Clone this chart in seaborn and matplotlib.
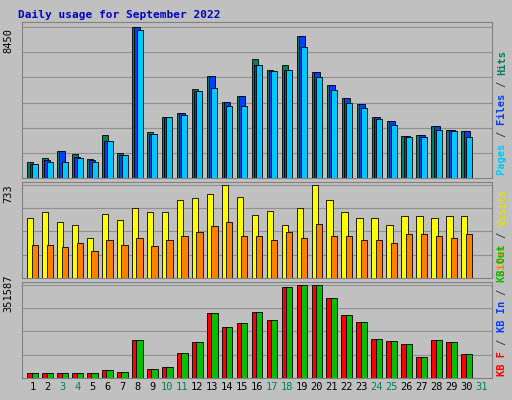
import matplotlib
matplotlib.use("Agg")
import matplotlib.pyplot as plt
import seaborn as sns
import numpy as np
import pandas as pd

days = list(range(1, 32))
hits  = [914,1142,1485,1313,1085,2398,1370,8450,2570,3426,3654,4967,5710,4225,4568,6624,6053,6281,7937,5938,5196,4454,4111,3426,3198,2341,2398,2912,2684,2627]
files = [800,1028,1485,1199,1028,2056,1256,8450,2455,3426,3654,4853,5710,4225,4568,6281,5996,6053,7937,5938,5196,4454,4111,3426,3198,2341,2398,2912,2684,2627]
pages = [800,914,914,1142,914,2056,1256,8280,2455,3426,3540,4853,5025,3997,3997,6281,5996,6053,7309,5653,4911,4168,3883,3312,2970,2284,2284,2684,2627,2284]
visits = [470,518,438,414,311,502,454,550,518,518,614,630,662,733,638,494,526,414,550,733,614,518,470,470,414,486,486,470,486,486]
sites  = [263,263,247,279,215,295,263,311,255,295,327,359,406,438,327,327,295,359,311,422,327,327,295,295,279,343,343,327,311,343]
kbf   = [19100,19100,19100,19100,19100,30600,22900,145000,34400,42000,95500,137500,244500,191000,206000,248000,218000,344000,351587,351587,302000,237000,210000,149000,141000,130000,80000,145000,137500,91700]
kbout = [19100,19100,19100,19100,19100,30600,22900,145000,34400,42000,95500,137500,244500,191000,206000,248000,218000,344000,351587,351587,302000,237000,210000,149000,141000,130000,80000,145000,137500,91700]
weekend = [3,4,10,11,17,18,24,25,31]

BG = "#c0c0c0"
fig = plt.figure(figsize=(5.12, 4.0), dpi=100, facecolor=BG)
mono = "DejaVu Sans Mono"
FS = 7.5
CH = FS * 0.602 * 100 / 72  # px per mono char

def panel(rect, series, ymax, maxlabel, labels):
    ax = fig.add_axes(rect, facecolor=BG)
    n = len(series)
    offs = np.linspace(-0.15, 0.15, n)
    for (vals, col), o in zip(series, offs):
        df = pd.DataFrame({"x": np.array(days[:30]) + o, "y": vals})
        sns.barplot(data=df, x="x", y="y", native_scale=True, color=col,
                    width=0.42 if n == 2 else 0.4, edgecolor="black", linewidth=0.6,
                    saturation=1, ax=ax, zorder=3)
    ax.set_xlim(0.3, 31.7)
    ax.set_ylim(0, ymax * 1.03)
    for f in (np.arange(0.166, 1.0, 0.166) if n == 3 else [0.25, 0.5, 0.75, 1.0]):
        ax.axhline(ymax * f, color="#909090", lw=0.8, zorder=1)
    ax.set_xlabel(""); ax.set_ylabel("")
    ax.set_yticks([]); ax.set_xticks([])
    for s in ax.spines.values():
        s.set_color("#808080")
    ax.text(-0.03, 0.88, maxlabel, transform=ax.transAxes, rotation=90,
            ha="center", va="center", fontsize=FS, family=mono)
    hpx = rect[3] * 400
    y = 0.02
    for t, c in labels:
        ax.text(1.022, y, t, transform=ax.transAxes, rotation=90, ha="center",
                va="bottom", fontsize=FS, family=mono, weight="bold", color=c)
        y += len(t) * CH / hpx
    return ax

sep = ("/", "#404040")
ax1 = panel([0.043, 0.555, 0.918, 0.39],
            [(hits, "#008060"), (files, "#0040ff"), (pages, "#00c8ff")], 8450, "8450",
            [("Pages ", "#00c8ff"), ("/ ", "#404040"), ("Files ", "#0040ff"), ("/ ", "#404040"), ("Hits", "#008060")])
ax2 = panel([0.043, 0.305, 0.918, 0.24],
            [(visits, "#ffff00"), (sites, "#ff8000")], 733, "733",
            [("Sites ", "#ff8000"), ("/ ", "#404040"), ("Visits", "#e0e000")])
ax3 = panel([0.043, 0.055, 0.918, 0.24],
            [(kbf, "#ff0000"), (kbout, "#00c000")], 351587, "351587",
            [("KB F ", "#ff0000"), ("/ ", "#404040"), ("KB In ", "#0040ff"), ("/ ", "#404040"), ("KB Out", "#00c000")])

ax3.set_xticks(days)
ax3.set_xticklabels([str(d) for d in days], fontsize=FS, family=mono)
for lbl, d in zip(ax3.get_xticklabels(), days):
    lbl.set_color("#008060" if d in weekend else "black")
ax3.tick_params(axis="x", length=0, pad=3)

fig.text(0.035, 0.962, "Daily usage for September 2022", color="#0000c0",
         fontsize=8, family=mono, weight="bold", va="center")
fig.savefig("out.png", dpi=100, facecolor=BG)
